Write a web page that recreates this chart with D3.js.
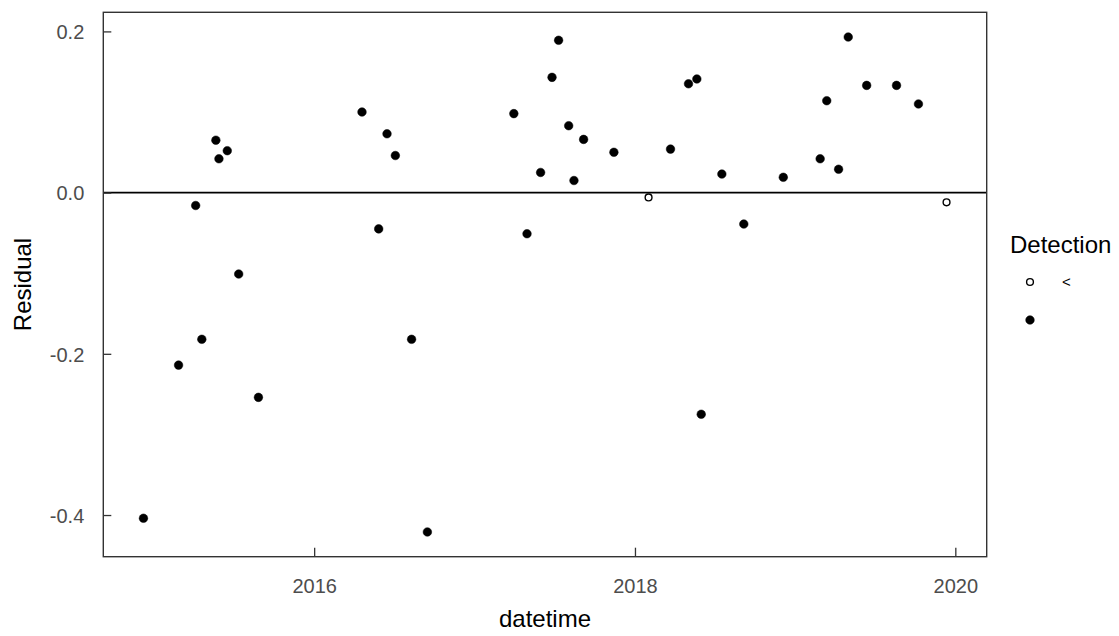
<!DOCTYPE html>
<html>
<head>
<meta charset="utf-8">
<script src="https://cdn.jsdelivr.net/npm/d3@7"></script>
<style>
  html, body { margin: 0; padding: 0; background: #fff; }
  svg { display: block; font-family: "Liberation Sans", Arial, sans-serif; }
</style>
</head>
<body>
<svg id="chart" width="1119" height="636"></svg>
<script>
// ---- data ----
const dates = [
  "2014-12-08","2015-02-26","2015-04-06","2015-04-20","2015-05-22","2015-05-29",
  "2015-06-17","2015-07-13","2015-08-27","2016-04-19","2016-05-27","2016-06-15",
  "2016-07-04","2016-08-10","2016-09-15","2017-03-31","2017-04-30","2017-05-31",
  "2017-06-26","2017-07-11","2017-08-03","2017-08-15","2017-09-06","2017-11-14",
  "2018-02-01","2018-03-23","2018-05-03","2018-05-22","2018-06-01","2018-07-18",
  "2018-09-06","2018-12-05","2019-02-27","2019-03-14","2019-04-10","2019-05-02",
  "2019-06-13","2019-08-20","2019-10-09","2019-12-12"
];
const residuals = [
  -0.404,-0.214,-0.016,-0.182,0.065,0.042,
  0.052,-0.101,-0.254,0.100,-0.045,0.073,
  0.046,-0.182,-0.421,0.098,-0.051,0.025,
  0.143,0.189,0.083,0.015,0.066,0.050,
  -0.006,0.054,0.135,0.141,-0.275,0.023,
  -0.039,0.019,0.042,0.114,0.029,0.193,
  0.133,0.133,0.110,-0.012
];
const detection = [
  "","","","","","",
  "","","","","","",
  "","","","","","",
  "","","","","","",
  "<","","","","","",
  "","","","","","",
  "","","","<"
];
const legendLevels = ["<", ""];
const xTickLabels = ["2016", "2018", "2020"];
const yTickValues = [-0.4, -0.2, 0.0, 0.2];
const yTickLabels = ["-0.4", "-0.2", "0.0", "0.2"];

// ---- layout ----
const svg = d3.select("#chart");
const panel = { left: 103.3, right: 986.7, top: 12.3, bottom: 556.7 };
const parse = d3.timeParse("%Y-%m-%d");
const data = dates.map((d, i) => ({ date: parse(d), value: residuals[i], det: detection[i] }));

const [x0, x1] = d3.extent(data, d => d.date);
const xPad = (x1 - x0) * 0.05;
const x = d3.scaleTime()
  .domain([new Date(+x0 - xPad), new Date(+x1 + xPad)])
  .range([panel.left, panel.right]);

const [y0, y1] = d3.extent(data, d => d.value);
const yPad = (y1 - y0) * 0.05;
const y = d3.scaleLinear()
  .domain([y0 - yPad, y1 + yPad])
  .range([panel.bottom, panel.top]);

// zero line
svg.append("line")
  .attr("x1", panel.left).attr("x2", panel.right)
  .attr("y1", y(0)).attr("y2", y(0))
  .attr("stroke", "#000").attr("stroke-width", 1.6);

// axes
const xAxis = d3.axisBottom(x)
  .tickValues(xTickLabels.map(s => parse(s + "-01-01")))
  .tickFormat((d, i) => xTickLabels[i])
  .tickSizeInner(-9).tickSizeOuter(0).tickPadding(22);
const gx = svg.append("g").attr("transform", `translate(0,${panel.bottom})`).call(xAxis);
gx.select(".domain").remove();
gx.selectAll(".tick line").attr("stroke", "#333").attr("stroke-width", 1.3);
gx.selectAll(".tick text").attr("fill", "#4d4d4d").attr("font-size", 20)
  .attr("dy", "0").attr("y", 36.5);

const yAxis = d3.axisLeft(y)
  .tickValues(yTickValues)
  .tickFormat((d, i) => yTickLabels[i])
  .tickSizeInner(-8).tickSizeOuter(0).tickPadding(19);
const gy = svg.append("g").attr("transform", `translate(${panel.left},0)`).call(yAxis);
gy.select(".domain").remove();
gy.selectAll(".tick line").attr("stroke", "#333").attr("stroke-width", 1.3);
gy.selectAll(".tick text").attr("fill", "#4d4d4d").attr("font-size", 20).attr("dy", "0.36em");

// panel border
svg.append("rect")
  .attr("x", panel.left).attr("y", panel.top)
  .attr("width", panel.right - panel.left).attr("height", panel.bottom - panel.top)
  .attr("fill", "none").attr("stroke", "#333").attr("stroke-width", 1.4);

// points
svg.append("g").selectAll("circle")
  .data(data).join("circle")
  .attr("cx", d => x(d.date)).attr("cy", d => y(d.value))
  .attr("r", d => d.det === "<" ? 3.4 : 4.3)
  .attr("fill", d => d.det === "<" ? "none" : "#000")
  .attr("stroke", "#000")
  .attr("stroke-width", d => d.det === "<" ? 1.4 : 0.5);

// axis titles
svg.append("text")
  .attr("x", (panel.left + panel.right) / 2).attr("y", 627)
  .attr("text-anchor", "middle").attr("font-size", 24).attr("fill", "#000")
  .text("datetime");
svg.append("text")
  .attr("transform", `translate(31,${(panel.top + panel.bottom) / 2}) rotate(-90)`)
  .attr("text-anchor", "middle").attr("font-size", 24).attr("fill", "#000")
  .text("Residual");

// legend
const lg = svg.append("g").attr("transform", "translate(1010,0)");
lg.append("text").attr("x", 0).attr("y", 253).attr("font-size", 24).attr("fill", "#000").text("Detection");
const items = lg.selectAll("g.item").data(legendLevels).join("g")
  .attr("class", "item")
  .attr("transform", (d, i) => `translate(20,${282 + i * 38})`);
items.append("circle")
  .attr("r", d => d === "<" ? 3.4 : 4.3)
  .attr("fill", d => d === "<" ? "none" : "#000")
  .attr("stroke", "#000")
  .attr("stroke-width", d => d === "<" ? 1.4 : 0.5);
items.append("text")
  .attr("x", 32).attr("dy", "0.35em").attr("font-size", 15).attr("fill", "#000")
  .text(d => d);
</script>
</body>
</html>
